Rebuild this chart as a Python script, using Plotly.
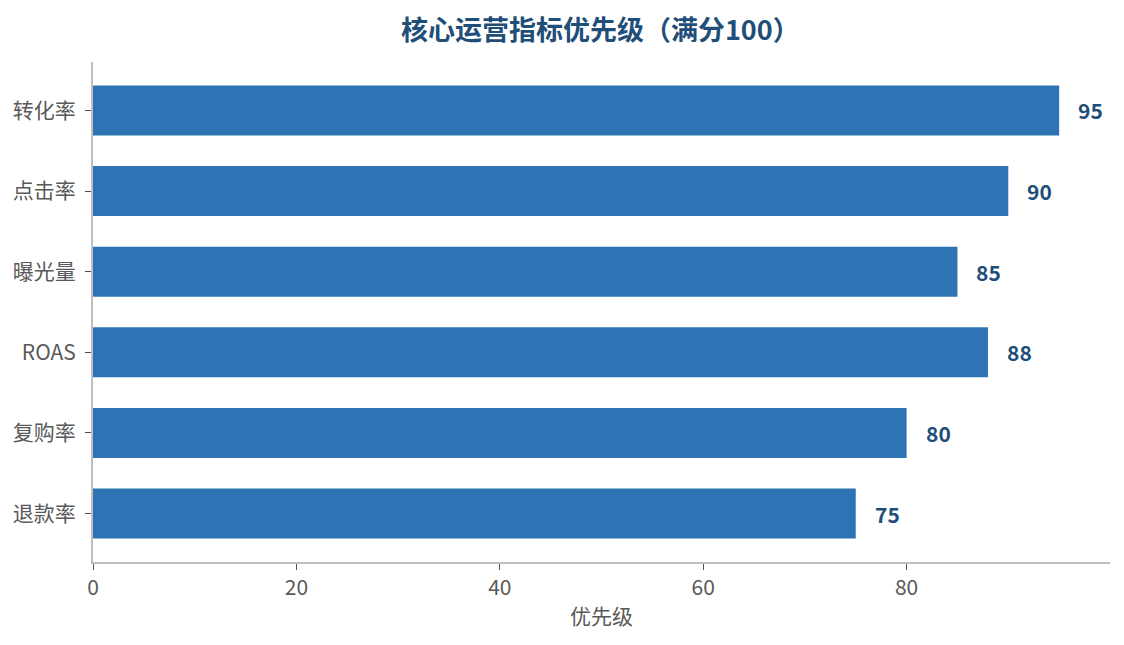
import plotly.graph_objects as go

metrics = ["转化率", "点击率", "曝光量", "ROAS", "复购率", "退款率"]
priority = [95, 90, 85, 88, 80, 75]

title_text = "核心运营指标优先级（满分100）"
x_title = "优先级"
x_ticks = [0, 20, 40, 60, 80]

font_family = "Noto Sans CJK SC, Noto Sans, sans-serif"
bar_color = "#2e74b5"
label_color = "#1f4e79"

fig = go.Figure(
    data=go.Bar(
        x=priority,
        y=metrics,
        orientation="h",
        marker=dict(color=bar_color, line=dict(width=0)),
        width=0.62,
        hoverinfo="skip",
    )
)

# value labels to the right of each bar
for m, v in zip(metrics, priority):
    fig.add_annotation(
        x=v,
        y=m,
        text="<b>%d</b>" % v,
        showarrow=False,
        xanchor="left",
        yanchor="middle",
        xshift=17,
        font=dict(family=font_family, size=21, color=label_color),
    )

fig.update_layout(
    width=1124,
    height=645,
    paper_bgcolor="white",
    plot_bgcolor="white",
    margin=dict(l=85, r=22, t=54, b=91),
    showlegend=False,
    font=dict(family=font_family, size=21, color="#595959"),
    title=dict(
        text="<b>" + title_text + "</b>",
        x=0.527,
        xanchor="center",
        y=0.965,
        yanchor="middle",
        font=dict(family=font_family, size=27, color=label_color),
    ),
)

fig.update_xaxes(
    range=[0, 100],
    tickvals=x_ticks,
    automargin=False,
    showgrid=False,
    zeroline=False,
    showline=True,
    linecolor="#bfbfbf",
    linewidth=2,
    ticks="outside",
    ticklen=6,
    tickcolor="#555555",
    tickfont=dict(size=21, color="#595959"),
    title=dict(text=x_title, font=dict(size=21, color="#595959"), standoff=9),
)

fig.update_yaxes(
    range=[5.6, -0.6],
    automargin=False,
    showgrid=False,
    zeroline=False,
    showline=True,
    linecolor="#bfbfbf",
    linewidth=2,
    ticks="outside",
    ticklen=6,
    tickcolor="#555555",
    ticklabelstandoff=5,
    tickfont=dict(size=21, color="#595959"),
)

fig.write_html("out.html")
